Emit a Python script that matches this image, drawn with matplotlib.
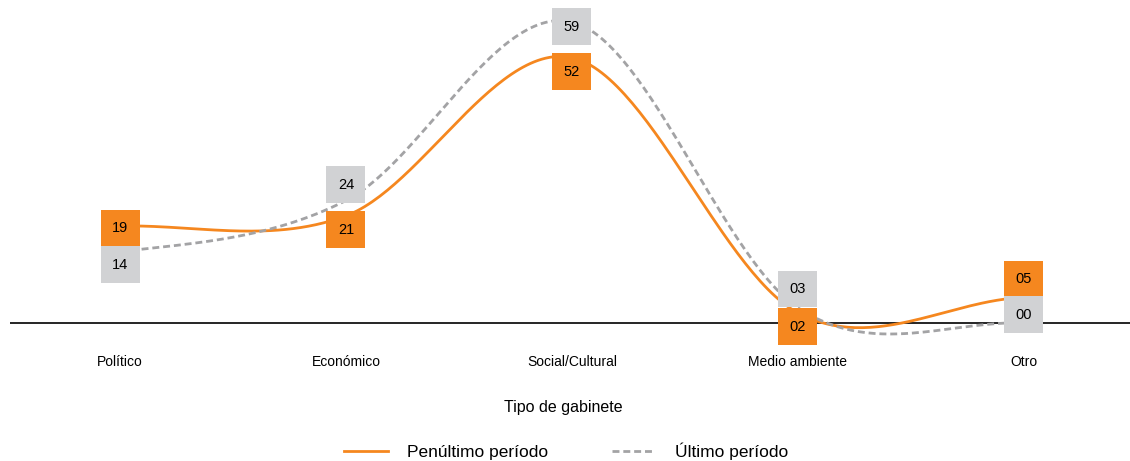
import numpy as np
import matplotlib.pyplot as plt
from matplotlib.lines import Line2D

plt.rcParams['font.family'] = ['Liberation Sans', 'DejaVu Sans']

# datos
categorias = ['Político', 'Económico', 'Social/Cultural', 'Medio ambiente', 'Otro']
penultimo = [19, 21, 52, 2, 5]
ultimo = [14, 24, 59, 3, 0]

naranja = '#F5871F'
gris_caja = '#D1D2D4'
gris_linea = '#A3A3A5'

# desplazamiento vertical de las etiquetas (puntos)
dy_penultimo = [-1.5, -10, -10, -10, 13]
dy_ultimo = [-9.5, 11.5, -3.5, 13.5, 6]


def suavizar(y, n=60):
    # spline tipo Catmull-Rom entre puntos consecutivos
    y = np.asarray(y, dtype=float)
    x = np.arange(len(y))
    m = np.zeros_like(y)
    m[1:-1] = (y[2:] - y[:-2]) / 2
    m[0] = (y[1] - y[0]) / 2
    m[-1] = (y[-1] - y[-2]) / 2
    xs, ys = [], []
    for i in range(len(y) - 1):
        t = np.linspace(0, 1, n, endpoint=(i == len(y) - 2))
        h00 = 2 * t**3 - 3 * t**2 + 1
        h10 = t**3 - 2 * t**2 + t
        h01 = -2 * t**3 + 3 * t**2
        h11 = t**3 - t**2
        xs.append(x[i] + t)
        ys.append(h00 * y[i] + h10 * m[i] + h01 * y[i + 1] + h11 * m[i + 1])
    return np.concatenate(xs), np.concatenate(ys)


fig = plt.figure(figsize=(11.3, 4.61), dpi=100)
ax = fig.add_axes([10 / 1130, 1 - 348.5 / 461, 1120 / 1130, 348.5 / 461])

guion = (0, (2.5, 1.4))
x = np.arange(len(categorias))
xs, ys = suavizar(penultimo)
ax.plot(xs, ys, color=naranja, lw=2.0, zorder=3)
xs, ys = suavizar(ultimo)
ax.plot(xs, ys, color=gris_linea, lw=2.0, ls=guion, zorder=4)

ax.axhline(0, color='black', lw=1.2, zorder=2)

for i in range(len(categorias)):
    ax.annotate(f'{penultimo[i]:02d}', (x[i], penultimo[i]), xytext=(0, dy_penultimo[i]),
                textcoords='offset points', ha='center', va='center', fontsize=10.5,
                bbox=dict(boxstyle='square,pad=0.78', fc=naranja, ec='none'), zorder=6)
    ax.annotate(f'{ultimo[i]:02d}', (x[i], ultimo[i]), xytext=(0, dy_ultimo[i]),
                textcoords='offset points', ha='center', va='center', fontsize=10.5,
                bbox=dict(boxstyle='square,pad=0.78', fc=gris_caja, ec='none'), zorder=6)

ax.set_xlim(-0.487, 4.47)
ax.set_ylim(-5, 63.3)
ax.set_yticks([])
ax.set_xticks(x)
ax.set_xticklabels(categorias, fontsize=10)
ax.tick_params(axis='x', length=0, pad=5)
for s in ax.spines.values():
    s.set_visible(False)

fig.text(563 / 1130, 1 - 407 / 461, 'Tipo de gabinete', ha='center', va='center', fontsize=11.5)

handles = [Line2D([], [], color=naranja, lw=2.0),
           Line2D([], [], color=gris_linea, lw=2.0, ls=guion)]
fig.legend(handles, ['Penúltimo período', 'Último período'], loc='center',
           bbox_to_anchor=(566 / 1130, 1 - 451 / 461), ncol=2, frameon=False,
           fontsize=12.5, handlelength=2.5, handletextpad=1.1, columnspacing=3.7)

fig.savefig('out.png', dpi=100)
